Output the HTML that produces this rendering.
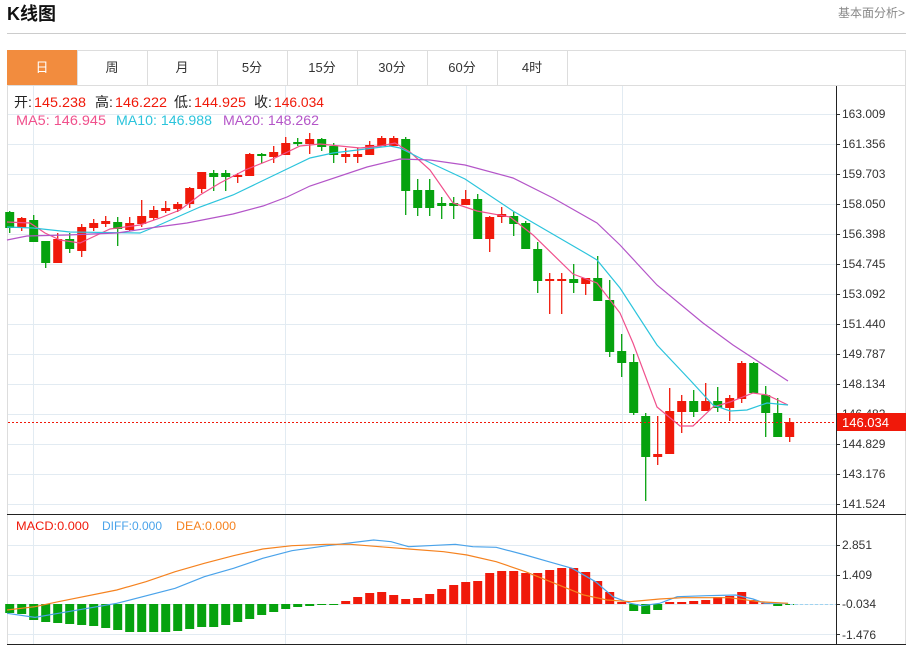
<!DOCTYPE html>
<html><head><meta charset="utf-8"><style>
body{margin:0;width:911px;height:645px;background:#fff;overflow:hidden;font-family:"Liberation Sans","Noto Sans CJK SC",sans-serif;}
svg{position:absolute;left:0;top:0}
</style></head><body>
<svg id="s" width="911" height="645" xmlns="http://www.w3.org/2000/svg" font-family="Liberation Sans, Noto Sans CJK SC, sans-serif">
<text x="7" y="20" font-size="18" font-weight="bold" fill="#111">K线图</text>
<text x="905" y="17" font-size="12" fill="#888" text-anchor="end">基本面分析&gt;</text>
<line x1="7" y1="33.5" x2="906" y2="33.5" stroke="#ccc"/>
<rect x="7.5" y="50.5" width="898" height="594" fill="none" stroke="#ddd"/>
<line x1="7" y1="85.5" x2="906" y2="85.5" stroke="#ddd"/>
<rect x="7" y="50" width="70" height="35" fill="#f28c3e"/>
<g stroke="#ddd"><line x1="77.5" y1="50" x2="77.5" y2="85"/><line x1="147.5" y1="50" x2="147.5" y2="85"/><line x1="217.5" y1="50" x2="217.5" y2="85"/><line x1="287.5" y1="50" x2="287.5" y2="85"/><line x1="357.5" y1="50" x2="357.5" y2="85"/><line x1="427.5" y1="50" x2="427.5" y2="85"/><line x1="497.5" y1="50" x2="497.5" y2="85"/><line x1="567.5" y1="50" x2="567.5" y2="85"/></g>
<g font-size="13" text-anchor="middle" fill="#333"><text x="42" y="72" fill="#fff">日</text><text x="112" y="72">周</text><text x="182" y="72">月</text><text x="252" y="72">5分</text><text x="322" y="72">15分</text><text x="392" y="72">30分</text><text x="462" y="72">60分</text><text x="532" y="72">4时</text></g>
<g id="grid" stroke="#e2ebf2" stroke-width="1"></g>
<g id="plot"></g>
<line x1="836.5" y1="86" x2="836.5" y2="645" stroke="#222"/>
<line x1="7" y1="514.5" x2="906" y2="514.5" stroke="#222"/>
<line x1="7" y1="644.5" x2="906" y2="644.5" stroke="#222"/>
<g font-size="12" fill="#333">
<text x="842" y="118">163.009</text><text x="842" y="148">161.356</text><text x="842" y="178">159.703</text><text x="842" y="208">158.050</text><text x="842" y="238">156.398</text><text x="842" y="268">154.745</text><text x="842" y="298">153.092</text><text x="842" y="328">151.440</text><text x="842" y="358">149.787</text><text x="842" y="388">148.134</text><text x="842" y="418">146.482</text><text x="842" y="448">144.829</text><text x="842" y="478">143.176</text><text x="842" y="508">141.524</text>
<text x="842" y="549">2.851</text><text x="842" y="579">1.409</text><text x="842" y="608">-0.034</text><text x="842" y="639">-1.476</text>
</g>
<rect x="837" y="413" width="69" height="18" fill="#f0190a"/>
<text x="842" y="427" font-size="13" fill="#fff">146.034</text>
<g font-size="14" fill="#222">
<text x="14" y="107">开:</text><text x="34" y="107" fill="#f0190a" textLength="52" lengthAdjust="spacingAndGlyphs">145.238</text>
<text x="95" y="107">高:</text><text x="115" y="107" fill="#f0190a" textLength="52" lengthAdjust="spacingAndGlyphs">146.222</text>
<text x="174" y="107">低:</text><text x="194" y="107" fill="#f0190a" textLength="52" lengthAdjust="spacingAndGlyphs">144.925</text>
<text x="254" y="107">收:</text><text x="274" y="107" fill="#f0190a" textLength="50" lengthAdjust="spacingAndGlyphs">146.034</text>
<text x="16" y="125" fill="#f0508c" textLength="90" lengthAdjust="spacingAndGlyphs">MA5: 146.945</text>
<text x="116" y="125" fill="#2bc4dc" textLength="96" lengthAdjust="spacingAndGlyphs">MA10: 146.988</text>
<text x="223" y="125" fill="#b455c8" textLength="96" lengthAdjust="spacingAndGlyphs">MA20: 148.262</text>
</g>
<g font-size="12">
<text x="16" y="530" fill="#f0190a" textLength="73" lengthAdjust="spacingAndGlyphs">MACD:0.000</text>
<text x="102" y="530" fill="#4aa3ea" textLength="60" lengthAdjust="spacingAndGlyphs">DIFF:0.000</text>
<text x="176" y="530" fill="#f5821f" textLength="60" lengthAdjust="spacingAndGlyphs">DEA:0.000</text>
</g>
</svg>
<script>
var NS="http://www.w3.org/2000/svg",g=document.getElementById('grid'),p=document.getElementById('plot');
function el(par,t,a){var e=document.createElementNS(NS,t);for(var k in a)e.setAttribute(k,a[k]);par.appendChild(e);return e;}
for(var i=0;i<14;i++){var y=114.5+30*i;el(g,'line',{x1:8,y1:y,x2:836,y2:y});el(g,'line',{x1:836,y1:y,x2:840,y2:y,stroke:'#333'});}
[545.5,575.5,604.5,634.5].forEach(function(y){el(g,'line',{x1:8,y1:y,x2:836,y2:y});el(g,'line',{x1:836,y1:y,x2:840,y2:y,stroke:'#333'});});
[33.5,285.5,466.5,622.5].forEach(function(x){el(g,'line',{x1:x,y1:86,x2:x,y2:644});});
var C=[['g',212,228,211,233],['r',218,228,217,231],['g',220,242,215,242],['g',241,263,241,268],['r',239,263,233,263],['g',239,249,233,253],['r',227,251,224,257],['r',223,228,219,231],['r',221,224,216,227],['g',222,229,217,246],['r',223,230,217,231],['r',216,224,200,227],['r',210,218,206,220],['r',208,211,201,213],['r',204,209,202,212],['r',188,204,187,208],['r',172,189,172,193],['g',173,177,170,191],['g',173,177,170,191],['r',175,177,173,183],['r',154,176,153,176],['g',154,156,153,163],['r',152,157,146,163],['r',143,155,137,155],['g',142,144,138,146],['r',139,144,133,154],['g',139,147,138,151],['g',146,155,143,163],['r',154,157,148,163],['r',154,157,148,163],['r',145,155,141,155],['r',138,146,136,146],['r',138,146,136,146],['g',139,191,137,215],['g',190,208,179,216],['g',190,208,179,216],['g',203,206,197,219],['g',203,206,197,219],['r',199,205,190,205],['g',199,239,194,239],['r',217,239,216,252],['r',214,217,207,223],['g',216,224,212,236],['g',223,249,221,249],['g',249,281,242,293],['r',279,281,273,314],['r',279,281,273,314],['g',279,283,264,293],['r',278,284,278,295],['g',278,301,256,301],['g',300,352,280,357],['g',351,363,334,377],['g',362,413,354,415],['g',416,457,413,501],['r',454,457,416,465],['r',411,454,388,454],['r',401,412,395,433],['g',401,412,390,417],['r',401,411,383,411],['g',401,408,387,412],['r',398,408,395,421],['r',363,399,361,403],['g',363,393,362,393],['g',395,413,386,437],['g',413,437,398,437],['r',422,437,418,442]];
C.forEach(function(c,i){var x=9.7+12*i,col=c[0]=='r'?'#f0190a':'#06a20e';
el(p,'line',{x1:x,y1:c[3],x2:x,y2:c[4],stroke:col,'stroke-width':1.3});
el(p,'rect',{x:x-4.5,y:c[1],width:9,height:Math.max(2,c[2]-c[1]),fill:col});});
function pl(pts,col,w){el(p,'polyline',{points:pts.map(function(q){return q.join(',')}).join(' '),fill:'none',stroke:col,'stroke-width':w||1.2});}
pl([[7,222],[30,223],[45,233],[60,240],[80,243],[95,236],[110,229],[140,225],[160,218],[180,210],[200,195],[220,183],[245,170],[275,158],[300,146],[320,144],[340,146],[360,148],[380,146],[395,143],[410,152],[430,170],[453,203],[477,211],[510,217],[533,235],[573,274],[597,283],[620,313],[633,343],[657,407],[680,426],[693,426],[713,407],[730,402],[753,393],[767,395],[788,405]],'#f0508c');
pl([[7,227],[33,228],[70,232],[140,233],[157,226],[200,207],[233,195],[287,169],[310,158],[333,153],[390,146],[400,148],[420,158],[465,179],[513,211],[587,254],[597,260],[620,288],[657,345],[690,380],[713,405],[730,411],[747,410],[767,403],[788,405]],'#2bc4dc');
pl([[7,240],[27,236],[67,235],[117,233],[150,228],[187,223],[233,214],[263,206],[287,197],[310,186],[367,167],[400,159],[430,160],[465,165],[513,178],[553,198],[597,223],[620,245],[657,285],[703,323],[733,345],[788,381]],'#b455c8');
el(p,'line',{x1:8,y1:422.5,x2:836,y2:422.5,stroke:'#f0190a','stroke-dasharray':'2,2','stroke-width':1});
var M=[613,614,620,622,623,624,625,626,628,630,632,632,632,632,631,629,627,627,625,622,619,615,612,609,607,606,605,604.5,601,597,593,592,595,599,598,594,589,585,582,581,573,571,571,573,573,570,568,568,572,581,592,602,611,614,610,602,602,601,600,597,596,592,600,603,606,605];
M.forEach(function(v,i){var x=9.7+12*i,z=604;var col=v>z?'#06a20e':'#f0190a';var t=Math.min(v,z),h=Math.max(1,Math.abs(v-z));el(p,'rect',{x:x-4.5,y:t,width:9,height:h,fill:col});});
el(p,'line',{x1:790,y1:604.5,x2:836,y2:604.5,stroke:'#9fd3f0','stroke-dasharray':'3,2'});
function cv(a){return a.map(function(q){return [q[0]/1.713,505+q[1]/3];});}
pl(cv([[12,325],[60,337],[100,325],[200,295],[300,250],[350,215],[400,190],[450,160],[500,137],[560,122],[640,105],[670,110],[700,125],[780,118],[810,125],[850,127],[900,150],[940,170],[980,190],[1020,230],[1050,275],[1080,295],[1100,302],[1130,295],[1160,275],[1210,272],[1260,270],[1290,282],[1310,295],[1350,295]]),'#4aa3ea');
pl(cv([[12,315],[60,305],[100,290],[200,255],[250,230],[300,200],[350,175],[400,152],[450,132],[500,122],[560,118],[600,118],[650,125],[700,132],[760,140],[800,150],[850,170],[900,200],[950,235],[1000,270],[1040,285],[1080,290],[1130,282],[1170,278],[1250,278],[1300,290],[1350,295]]),'#f5821f');
</script>
</body></html>
